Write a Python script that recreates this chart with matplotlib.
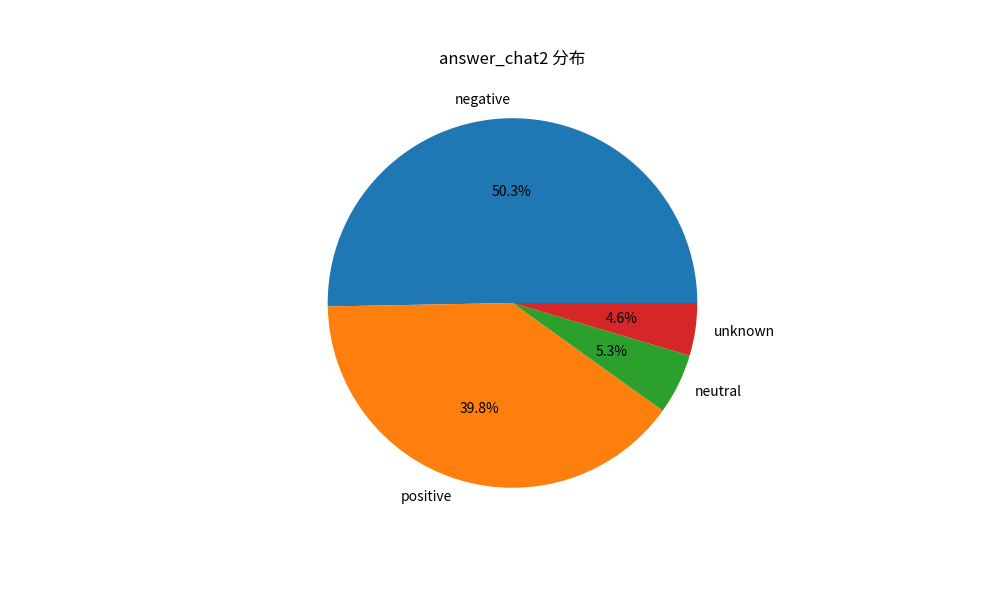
import matplotlib
matplotlib.use("Agg")
import matplotlib.pyplot as plt

plt.rcParams['font.family'] = ['Noto Sans CJK SC', 'DejaVu Sans']

labels = ["negative", "positive", "neutral", "unknown"]
values = [50.3, 39.8, 5.3, 4.6]

fig = plt.figure(figsize=(10, 6), dpi=100)
plt.pie(values, labels=labels, autopct='%1.1f%%')
plt.title("answer_chat2 分布")
plt.savefig("out.png")
